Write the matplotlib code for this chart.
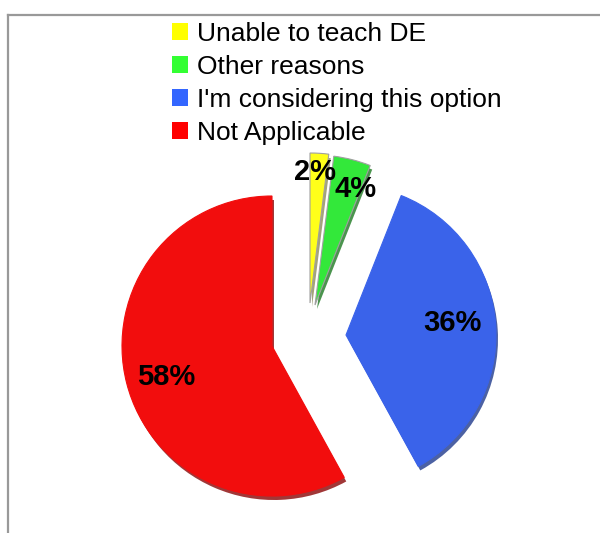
import matplotlib
matplotlib.use('Agg')
import matplotlib.pyplot as plt
from matplotlib.patches import Patch
from matplotlib.lines import Line2D

plt.rcParams['font.family'] = ['Liberation Sans', 'DejaVu Sans']

# data
labels = ['Unable to teach DE', 'Other reasons', "I'm considering this option", 'Not Applicable']
values = [2, 4, 36, 58]
slice_colors = ['#FFFF1A', '#33E83A', '#3A63EA', '#F20D0D']
shadow_colors = ['#8C8C5A', '#1E7A22', '#1F3A8C', '#8A0505']
legend_colors = ['#FFFF00', '#33FF33', '#3366FF', '#FF0000']

H = 533

def Y(y):
    return H - y

# where each exploded slice sits (pixels, top-left origin)
centers = [(310, 303), (315, 305), (346, 335), (272, 346)]
label_pos = [(315, 172), (356, 189), (452, 323), (166, 377)]

fig = plt.figure(figsize=(6, 5.33), dpi=100)
ax = fig.add_axes([0, 0, 1, 1])

# darker copy underneath for the 3d rim
shadow, _ = ax.pie(values, colors=shadow_colors, startangle=90, counterclock=False,
                   radius=150, center=(0, 0), frame=True,
                   wedgeprops=dict(linewidth=0))
for w, (cx, cy) in zip(shadow, centers):
    w.set_center((cx + 2, Y(cy) - 4))
    w.set_zorder(1)
    w.set_alpha(0.8)

wedges, _ = ax.pie(values, colors=slice_colors, startangle=90, counterclock=False,
                   radius=150, center=(0, 0), frame=True,
                   wedgeprops=dict(linewidth=0.8))
for i, (w, (cx, cy)) in enumerate(zip(wedges, centers)):
    w.set_center((cx, Y(cy)))
    w.set_zorder(2)
    w.set_edgecolor('#A0A0A0' if i < 2 else slice_colors[i])

ax.set_xlim(0, 600)
ax.set_ylim(0, H)
ax.axis('off')

for v, (lx, ly) in zip(values, label_pos):
    ax.text(lx, Y(ly), f'{v}%', fontsize=21, fontweight='bold', color='black',
            ha='center', va='center', zorder=5)

handles = [Patch(facecolor=c, edgecolor='none') for c in legend_colors]
ax.legend(handles, labels, loc='upper left', bbox_to_anchor=(172 / 600, 1 - 22 / H),
          frameon=False, fontsize=19, handlelength=0.6, handleheight=0.6,
          handletextpad=0.35, labelspacing=0.34, borderaxespad=0, borderpad=0)

# frame (only top and left show in the crop)
ax.add_line(Line2D([8, 600], [Y(15), Y(15)], color='#999999', lw=1.6, zorder=6))
ax.add_line(Line2D([8, 8], [Y(15), 0], color='#999999', lw=1.6, zorder=6))

fig.savefig('out.png', dpi=100)
